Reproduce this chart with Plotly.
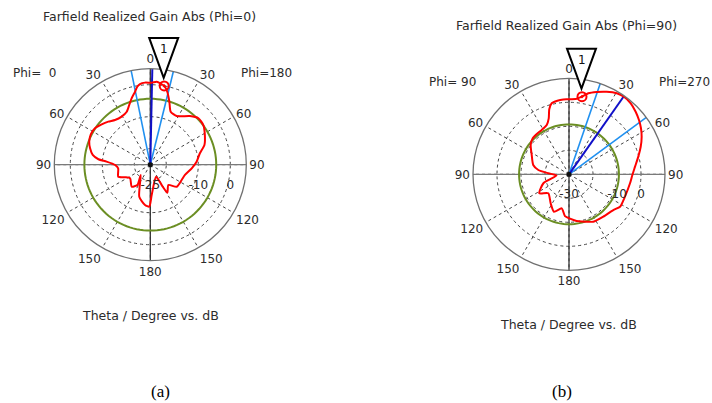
import math
import numpy as np
import plotly.graph_objects as go

W, H = 712, 403

# ---------------- data: (a) Phi = 0 / 180 cut ----------------
a_theta = [1, 4.4, 10, 13.1, 16.8, 21, 28.5, 39.2, 46, 53.2, 61.5, 70, 77, 86.3,
           95, 106.5, 116, 129.8, 138.4, 148.7, 150.7, 154.6, 177.4,
           181.4, 187.5, 199, 223, 212.6, 220.2, 236.2, 243.5, 249.4, 263.6,
           269.5, 274, 276, 279.6, 285.2, 290.7, 297.3, 303.4, 309.7, 315.7,
           321.7, 329.2, 336, 340.6, 344.4, 348.2, 350.5, 352.7, 356.3]
a_gain = [0.6, 1.0, 0.0, -1.6, -4.4, -7.25, -7.7, -5.4, -4.1, -4.3, -5.6, -7.0, -9.1, -10.5,
          -12.0, -13.7, -14.1, -14.25, -16.5, -14.75, -17.7, -20.8, -15.5,
          -11.9, -12.3, -14.4, -20.6, -17.5, -16.0, -17.4, -16.2, -14.3, -14.9,
          -14.0, -11.3, -8.7, -6.75, -5.5, -4.6, -4.1, -4.3, -5.25, -6.2,
          -7.2, -7.5, -6.9, -5.2, -3.4, -1.7, -0.3, 0.4, 0.7]
a_main_lobe = 1.2
a_beam_edges = [348.5, 13.9]
a_ref_level = -4.4
a_marker_theta = 10
a_marker_gain = 0.0
a_range = [-25, 5]
a_rticks = [-25, -20, -10, 0]
a_rticktext = ["-25", "", "-10", "0"]

# ---------------- data: (b) Phi = 90 / 270 cut ----------------
b_theta = [0, 5.8, 9.5, 13.4, 18.6, 24.5, 30.5, 35.3, 41, 46.8, 52.2, 57.4, 62.6, 69,
           75.7, 83.4, 90.6, 98.4, 111.8, 122.4, 128.9, 141, 152.9, 159.5, 165, 170.8,
           178.7, 185.5, 192.1, 201.9, 212.3, 227.5, 237.4, 250.7, 264.5, 272.8, 278,
           284.6, 297.4, 307.4, 314.8, 321.3, 328.4, 335.7, 340.1, 343.1, 346.3, 351,
           355.7]
b_gain = [1.25, 1.67, 2.8, 4.7, 6.2, 7.8, 9.2, 9.6, 9.2, 8.1, 6.9, 5.6, 4.1, 2.0,
          -0.2, -2.3, -3.6, -4.3, -4.9, -4.8, -6.3, -7.3, -7.8, -8.9, -9.6, -10.3,
          -11.5, -12.5, -15.5, -13.2, -15.7, -18.3, -15.3, -18.7, -24.75, -21.4, -17.1,
          -14.6, -12.5, -9.9, -8.7, -8.5, -8.3, -7.45, -5.2, -1.7, 0.45, 1.05,
          1.3]
b_main_lobe = 35.1
b_beam_edges = [19.0, 53.7]
b_ref_level = -9.2
b_marker_theta = 9.5
b_marker_gain = 2.8
b_range = [-30, 10]
b_rticks = [-30, -20, -10, 0]
b_rticktext = ["-30", "", "-10", "0"]

angle_ticks = list(range(0, 360, 30))
angle_ticktext = ["0", "30", "60", "90", "120", "150", "180", "150", "120", "90", "60", "30"]

# ---------------- layout geometry (pixels) ----------------
R = 96.0
A_C = (150.3, 164.7)
B_C = (569.0, 174.3)

FONT = "DejaVu Sans"
TXT = "#2b2b2b"


def domain(c):
    cx, cy = c
    return dict(x=[(cx - R) / W, (cx + R) / W], y=[1 - (cy + R) / H, 1 - (cy - R) / H])


def to_px(c, rng, theta, val):
    rp = (val - rng[0]) / (rng[1] - rng[0]) * R
    t = math.radians(theta)
    return c[0] + rp * math.sin(t), c[1] - rp * math.cos(t)


fig = go.Figure()


def add_panel(sub, rng, theta, gain, main, edges, ref, mth, mg):
    lo, hi = rng
    # cross lines
    fig.add_trace(go.Scatterpolar(theta=[90, 90, 270], r=[hi, lo, hi], mode="lines",
                                  line=dict(color="#7a7a7a", width=1.3), subplot=sub,
                                  showlegend=False, hoverinfo="skip"))
    fig.add_trace(go.Scatterpolar(theta=[0, 0, 180], r=[hi, lo, hi], mode="lines",
                                  line=dict(color="#333333", width=1.3), subplot=sub,
                                  showlegend=False, hoverinfo="skip"))
    # reference level circle
    circ = list(np.linspace(0, 360, 121))
    fig.add_trace(go.Scatterpolar(theta=circ, r=[ref] * len(circ), mode="lines",
                                  line=dict(color="#6B8E23", width=2), subplot=sub,
                                  showlegend=False, hoverinfo="skip"))
    # beam-width lines
    fig.add_trace(go.Scatterpolar(theta=[edges[0], edges[0], None, edges[1], edges[1]],
                                  r=[lo, hi, None, lo, hi], mode="lines",
                                  line=dict(color="#2090F0", width=1.6), subplot=sub,
                                  showlegend=False, hoverinfo="skip"))
    fig.add_trace(go.Scatterpolar(theta=[main, main], r=[lo, hi], mode="lines",
                                  line=dict(color="#1010C8", width=2), subplot=sub,
                                  showlegend=False, hoverinfo="skip"))
    # gain curve
    fig.add_trace(go.Scatterpolar(theta=theta + [theta[0]], r=gain + [gain[0]], mode="lines",
                                  line=dict(color="#FF0000", width=2, shape="spline", smoothing=0.6),
                                  subplot=sub, showlegend=False))
    # marker
    fig.add_trace(go.Scatterpolar(theta=[mth], r=[mg], mode="markers",
                                  marker=dict(symbol="circle-open-dot", size=9, color="#FF0000",
                                              line=dict(width=2, color="#FF0000")),
                                  subplot=sub, showlegend=False))
    # centre dot
    fig.add_trace(go.Scatterpolar(theta=[0], r=[lo], mode="markers",
                                  marker=dict(size=5, color="#111111"), subplot=sub,
                                  showlegend=False, hoverinfo="skip"))


add_panel("polar", a_range, a_theta, a_gain, a_main_lobe, a_beam_edges, a_ref_level,
          a_marker_theta, a_marker_gain)
add_panel("polar2", b_range, b_theta, b_gain, b_main_lobe, b_beam_edges, b_ref_level,
          b_marker_theta, b_marker_gain)


def polar_layout(c, rng, tv, tt):
    return dict(
        domain=domain(c),
        bgcolor="white",
        angularaxis=dict(rotation=90, direction="clockwise", tickvals=angle_ticks,
                         ticktext=angle_ticktext, showline=True, linecolor="#707070",
                         linewidth=1.3, showgrid=True, gridcolor="#444444", gridwidth=1,
                         griddash="3px,3px", ticks="",
                         tickfont=dict(family=FONT, size=12, color=TXT)),
        radialaxis=dict(range=rng, tickvals=tv, ticktext=tt, angle=0, side="clockwise",
                        showline=False, showgrid=True, gridcolor="#444444", gridwidth=1,
                        griddash="3px,3px", ticks="outside", ticklen=9,
                        tickcolor="rgba(0,0,0,0)",
                        tickfont=dict(family=FONT, size=12, color=TXT)),
    )


def ann(x, y, text, size=12.5, family=FONT, color=TXT):
    return dict(x=x / W, y=1 - y / H, xref="paper", yref="paper", text=text, showarrow=False,
                xanchor="center", yanchor="middle", font=dict(family=family, size=size, color=color))


annotations = [
    ann(149.5, 16, "Farfield Realized Gain Abs (Phi=0)"),
    ann(566.7, 25, "Farfield Realized Gain Abs (Phi=90)"),
    ann(34.5, 73, "Phi=\u00a0\u00a00", size=12),
    ann(266, 73, "Phi=180", size=12),
    ann(452, 82, "Phi=\u00a090", size=12),
    ann(684, 82, "Phi=270", size=12),
    ann(150, 315, "Theta / Degree vs. dB"),
    ann(568, 324, "Theta / Degree vs. dB"),
    ann(160, 391, "(a)", size=17, family="Liberation Serif", color="#000000"),
    ann(562, 391, "(b)", size=17, family="Liberation Serif", color="#000000"),
]

shapes = []
for c, rng, mth, mg in [(A_C, a_range, a_marker_theta, a_marker_gain),
                        (B_C, b_range, b_marker_theta, b_marker_gain)]:
    px, py = to_px(c, rng, mth, mg)
    tipx, tipy = px - 0.5, py - 8
    topy = tipy - 40
    x0, x1 = tipx - 14.5, tipx + 14.5
    path = "M {:.5f},{:.5f} L {:.5f},{:.5f} L {:.5f},{:.5f} Z".format(
        x0 / W, 1 - topy / H, x1 / W, 1 - topy / H, tipx / W, 1 - tipy / H)
    shapes.append(dict(type="path", path=path, xref="paper", yref="paper",
                       line=dict(color="#000000", width=2), fillcolor="white", layer="above"))
    annotations.append(ann(tipx + 0.5, topy + 11, "1", size=12, color="#111111"))

fig.update_layout(
    width=W, height=H,
    margin=dict(l=0, r=0, t=0, b=0),
    paper_bgcolor="white",
    polar=polar_layout(A_C, a_range, a_rticks, a_rticktext),
    polar2=polar_layout(B_C, b_range, b_rticks, b_rticktext),
    annotations=annotations,
    shapes=shapes,
    showlegend=False,
)

fig.write_html("out.html",
               config={"displayModeBar": False},
               post_script="document.body.style.margin='0px';document.body.style.overflow='hidden';")
